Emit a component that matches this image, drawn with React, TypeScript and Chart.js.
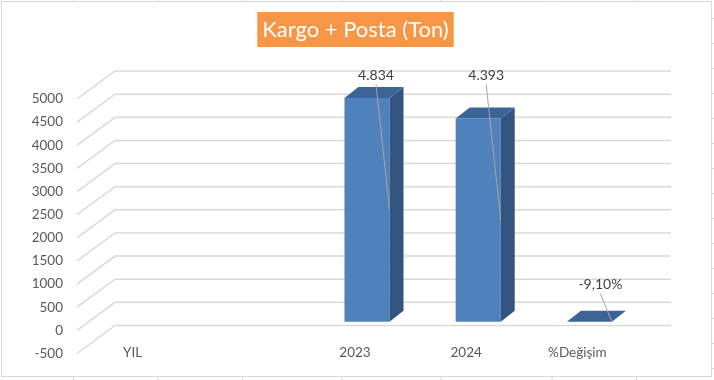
import React, { useEffect, useRef } from "react";
import { Chart, registerables } from "chart.js";

Chart.register(...registerables);

// ---- data ----
const titleText = "Kargo + Posta (Ton)";
const categories = ["YIL", "", "2023", "2024", "%Değişim"];
const values: (number | null)[] = [null, null, 4834, 4393, -0.091];
const percentCategories = ["%Değişim"];
const yMin = -500;
const yMax = 5000;
const yStep = 500;
const sheetColumnTicks = [73, 157.5, 242, 341.5, 440.6, 551.6, 636];

// ---- style ----
const FONT = "Lato, 'Open Sans', sans-serif";
const FLOOR_DX = 38;
const FLOOR_DY = 28;
const BAR_DX = 12;
const BAR_DY = -8.6;
const BAR_DEPTH_X = 14;
const BAR_DEPTH_Y = 11;
const FRONT = "#4f81bd";
const SIDE = "#34557f";
const TOP = "#3c6497";
const GRID = "#d9d9d9";
// label offsets (relative to bar top-center, in bar plane)
const LABEL_OFFSETS: Record<number, [number, number]> = {
  2: [9, -23],
  3: [8, -43],
  4: [11, -37],
};

function formatValue(v: number, cat: string): string {
  if (percentCategories.includes(cat)) {
    return (v * 100).toFixed(2).replace(".", ",") + "%";
  }
  const s = Math.round(v).toString();
  return s.replace(/\B(?=(\d{3})+(?!\d))/g, ".");
}

const chart3d = {
  id: "chart3d",
  beforeDraw(chart: any) {
    const ctx = chart.ctx as CanvasRenderingContext2D;
    const W = chart.width;
    const H = chart.height;
    ctx.save();
    ctx.fillStyle = "#ffffff";
    ctx.fillRect(0, 0, W, H);
    // sheet cell lines around the chart
    ctx.strokeStyle = GRID;
    ctx.lineWidth = 1;
    for (const x of sheetColumnTicks) {
      ctx.beginPath();
      ctx.moveTo(x + 0.5, 0);
      ctx.lineTo(x + 0.5, 2);
      ctx.moveTo(x + 0.5, 376);
      ctx.lineTo(x + 0.5, H);
      ctx.stroke();
    }
    for (let y = 18; y < H; y += 25) {
      ctx.beginPath();
      ctx.moveTo(712, y + 0.5);
      ctx.lineTo(W, y + 0.5);
      ctx.stroke();
    }
    // chart border
    ctx.strokeStyle = GRID;
    ctx.lineWidth = 1;
    ctx.strokeRect(1.5, 1.5, 710, 375);
    // title
    ctx.font = `22px ${FONT}`;
    const tw = ctx.measureText(titleText).width;
    const cx = 355.5;
    const bw = tw + 10;
    ctx.fillStyle = "#f79646";
    ctx.fillRect(cx - bw / 2, 12, bw, 35);
    ctx.fillStyle = "#ffffff";
    ctx.textAlign = "center";
    ctx.textBaseline = "middle";
    ctx.fillText(titleText, cx, 30);
    ctx.restore();
  },
  beforeDatasetsDraw(chart: any) {
    const ctx = chart.ctx as CanvasRenderingContext2D;
    const ys = chart.scales.y;
    const area = chart.chartArea;
    ctx.save();
    ctx.strokeStyle = GRID;
    ctx.lineWidth = 1.5;
    for (let v = yMin; v <= yMax + 1e-9; v += yStep) {
      const y = ys.getPixelForValue(v);
      ctx.beginPath();
      ctx.moveTo(area.left, y);
      ctx.lineTo(area.left + FLOOR_DX, y - FLOOR_DY);
      ctx.lineTo(area.right + FLOOR_DX, y - FLOOR_DY);
      ctx.stroke();
    }
    ctx.restore();
    ctx.save();
    ctx.translate(BAR_DX, BAR_DY);
  },
  afterDatasetsDraw(chart: any) {
    const ctx = chart.ctx as CanvasRenderingContext2D;
    ctx.restore();
    const xs = chart.scales.x;
    const ys = chart.scales.y;
    const meta = chart.getDatasetMeta(0);
    ctx.save();
    // 3D faces
    meta.data.forEach((el: any, i: number) => {
      const v = values[i];
      if (v === null || v === undefined) return;
      const p = el.getProps(["x", "y", "base", "width"], true);
      const xL = p.x - p.width / 2 + BAR_DX;
      const xR = p.x + p.width / 2 + BAR_DX;
      const top = Math.min(p.y, p.base) + BAR_DY;
      const bot = Math.max(p.y, p.base) + BAR_DY;
      // side
      ctx.fillStyle = SIDE;
      ctx.beginPath();
      ctx.moveTo(xR, top);
      ctx.lineTo(xR + BAR_DEPTH_X, top - BAR_DEPTH_Y);
      ctx.lineTo(xR + BAR_DEPTH_X, bot - BAR_DEPTH_Y);
      ctx.lineTo(xR, bot);
      ctx.closePath();
      ctx.fill();
      // top
      ctx.fillStyle = TOP;
      ctx.beginPath();
      ctx.moveTo(xL, top);
      ctx.lineTo(xL + BAR_DEPTH_X, top - BAR_DEPTH_Y);
      ctx.lineTo(xR + BAR_DEPTH_X, top - BAR_DEPTH_Y);
      ctx.lineTo(xR, top);
      ctx.closePath();
      ctx.fill();
      // data label + leader line
      const off = LABEL_OFFSETS[i] || [0, -20];
      const lx = p.x + BAR_DX + off[0];
      const ly = top + off[1];
      ctx.strokeStyle = "#a6a6a6";
      ctx.lineWidth = 1;
      ctx.beginPath();
      ctx.moveTo(lx, ly + 9);
      ctx.lineTo(xR, (top + bot) / 2);
      ctx.stroke();
      ctx.font = `14px ${FONT}`;
      ctx.fillStyle = "#404040";
      ctx.textAlign = "center";
      ctx.textBaseline = "middle";
      ctx.fillText(formatValue(v, categories[i]), lx, ly);
    });
    // category labels
    ctx.font = `13.5px ${FONT}`;
    ctx.fillStyle = "#595959";
    ctx.textAlign = "center";
    ctx.textBaseline = "middle";
    const yLab = ys.getPixelForValue(0) + 22;
    categories.forEach((c, i) => {
      ctx.fillText(c, xs.getPixelForValue(i), yLab);
    });
    ctx.restore();
  },
};

export default function App() {
  const ref = useRef<HTMLCanvasElement | null>(null);
  useEffect(() => {
    if (!ref.current) return;
    const chart = new Chart(ref.current, {
      type: "bar",
      data: {
        labels: categories,
        datasets: [
          {
            data: values as any,
            backgroundColor: FRONT,
            borderWidth: 0,
            barPercentage: 0.405,
            categoryPercentage: 1,
            clip: false as any,
          },
        ],
      },
      options: {
        animation: false,
        responsive: false,
        devicePixelRatio: 1,
        layout: { padding: { top: 99, bottom: 26.5, left: 0, right: 81 } },
        plugins: { legend: { display: false }, tooltip: { enabled: false }, title: { display: false } },
        scales: {
          x: { display: false, offset: true, grid: { display: false } },
          y: {
            min: yMin,
            max: yMax,
            border: { display: false },
            grid: { display: false, drawTicks: false },
            ticks: {
              stepSize: yStep,
              padding: 14,
              color: "#595959",
              font: { family: FONT, size: 13.5 },
              callback: (v: any) => String(v),
            },
            afterFit: (s: any) => {
              s.width = 77;
            },
          },
        },
      },
      plugins: [chart3d],
    });
    return () => chart.destroy();
  }, []);
  return (
    <div style={{ position: "fixed", left: 0, top: 0, width: 714, height: 380 }}>
      <canvas ref={ref} width={714} height={380} style={{ display: "block" }} />
    </div>
  );
}
